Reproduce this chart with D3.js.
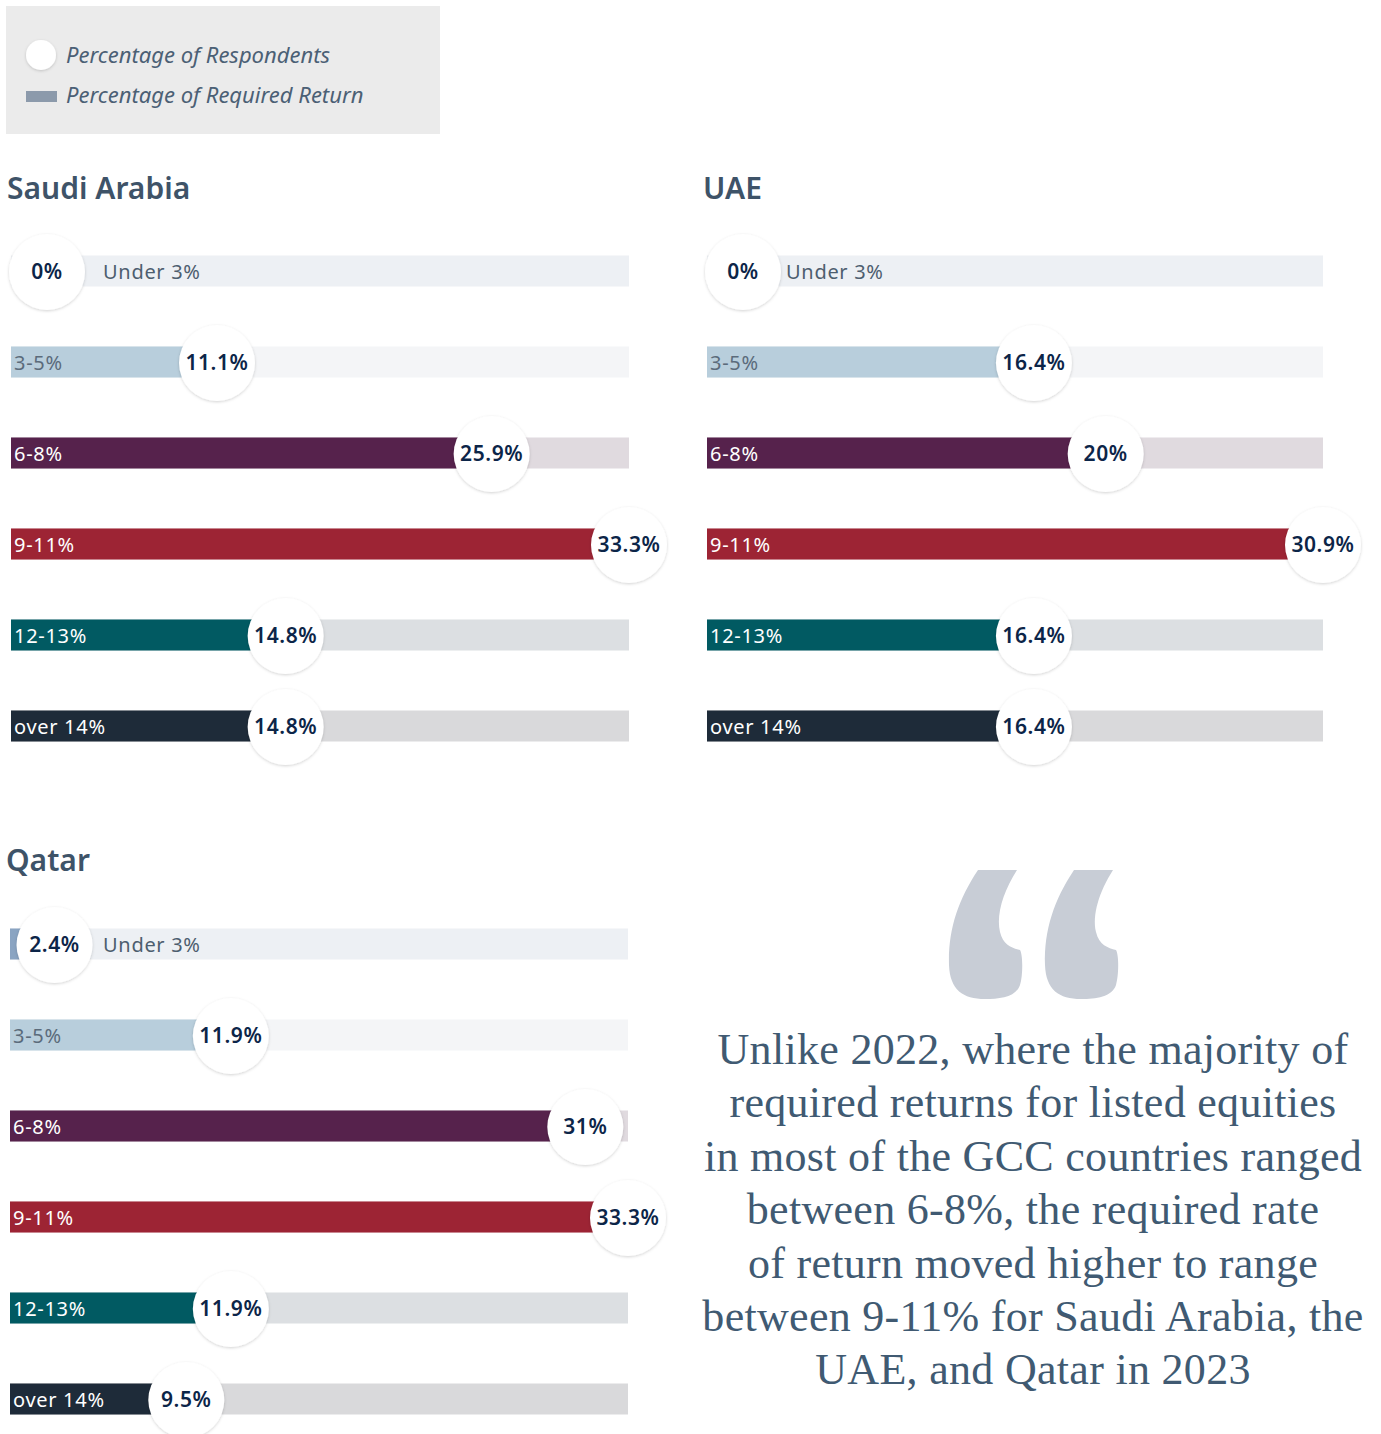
<!DOCTYPE html>
<html>
<head>
<meta charset="utf-8">
<script src="https://cdn.jsdelivr.net/npm/d3@7"></script>
<style>
  body { margin: 0; background: #fff; }
  svg { display: block; }
</style>
</head>
<body>
<svg id="chart" width="1381" height="1434"></svg>
<script>
// categories (rows) and the values per country
var categories = ["Under 3%", "3-5%", "6-8%", "9-11%", "12-13%", "over 14%"];
var saudiValues = [0, 11.1, 25.9, 33.3, 14.8, 14.8];
var uaeValues = [0, 16.4, 20, 30.9, 16.4, 16.4];
var qatarValues = [2.4, 11.9, 31, 33.3, 11.9, 9.5];

var legendLabels = ["Percentage of Respondents", "Percentage of Required Return"];
var quoteLines = [
  "Unlike 2022, where the majority of",
  "required returns for listed equities",
  "in most of the GCC countries ranged",
  "between 6-8%, the required rate",
  "of return moved higher to range",
  "between 9-11% for Saudi Arabia, the",
  "UAE, and Qatar in 2023"
];

// colours per row
var barColors = ["#8aa4c2", "#b8cedc", "#56224c", "#9d2434", "#015a62", "#1e2b39"];
var trackColors = ["#edf0f4", "#f4f5f7", "#e0dadf", "#ead8db", "#dcdfe2", "#d9d9db"];
var labelColors = ["#4d5e6f", "#5b6b7b", "#fff", "#fff", "#fff", "#fff"];

var svg = d3.select("#chart");

// shadow for the circles
var defs = svg.append("defs");
var f = defs.append("filter").attr("id", "shadow")
  .attr("x", "-30%").attr("y", "-30%").attr("width", "160%").attr("height", "160%");
f.append("feDropShadow").attr("dx", 0).attr("dy", 1).attr("stdDeviation", 1.6)
  .attr("flood-color", "#000").attr("flood-opacity", 0.18);

// legend
var lg = svg.append("g");
lg.append("rect").attr("x", 6).attr("y", 6).attr("width", 434).attr("height", 128).attr("fill", "#ebebeb");
lg.append("circle").attr("cx", 41).attr("cy", 55).attr("r", 15).attr("fill", "#fff").attr("filter", "url(#shadow)");
lg.append("rect").attr("x", 26).attr("y", 91).attr("width", 31).attr("height", 11).attr("fill", "#8c9aab");
lg.selectAll("text.lg").data(legendLabels).enter().append("text")
  .attr("class", "lg")
  .attr("x", 66)
  .attr("y", function(d, i) { return 63 + i * 40; })
  .attr("font-family", "'Noto Sans', sans-serif")
  .attr("font-style", "italic")
  .attr("font-size", "22px")
  .attr("fill", "#4b6075")
  .text(function(d) { return d; });

// one panel = title + 6 rows
function panel(title, values, x0, trackW, titleY, rowY0, firstLabelX) {
  var g = svg.append("g");
  g.append("text")
    .attr("x", x0 - 4)
    .attr("y", titleY)
    .attr("font-family", "'Noto Sans', sans-serif")
    .attr("font-weight", 600)
    .attr("font-size", "30px")
    .attr("fill", "#3e5368")
    .text(title);

  var xScale = d3.scaleLinear().domain([0, d3.max(values)]).range([x0, x0 + trackW]);
  var yScale = d3.scalePoint().domain(categories).range([rowY0, rowY0 + 5 * 91]);
  var barH = 31, r = 38;

  var rows = g.selectAll("g.row").data(categories).enter().append("g").attr("class", "row");

  rows.append("rect")
    .attr("x", x0)
    .attr("y", function(d) { return yScale(d) - barH / 2; })
    .attr("width", trackW)
    .attr("height", barH)
    .attr("fill", function(d, i) { return trackColors[i]; });

  rows.append("rect")
    .attr("x", x0)
    .attr("y", function(d) { return yScale(d) - barH / 2; })
    .attr("width", function(d, i) { return xScale(values[i]) - x0; })
    .attr("height", barH)
    .attr("fill", function(d, i) { return barColors[i]; });

  rows.append("text")
    .attr("x", function(d, i) { return i == 0 ? x0 + firstLabelX : x0 + 3; })
    .attr("y", function(d) { return yScale(d) + 8; })
    .attr("font-family", "'Noto Sans', sans-serif")
    .attr("font-size", "20px")
    .attr("letter-spacing", "0.7px")
    .attr("fill", function(d, i) { return labelColors[i]; })
    .text(function(d) { return d; });

  var cx = function(i) { return Math.max(xScale(values[i]), x0 + r - 2); };

  rows.append("circle")
    .attr("cx", function(d, i) { return cx(i); })
    .attr("cy", function(d) { return yScale(d) + 1; })
    .attr("r", r)
    .attr("fill", "#fff")
    .attr("filter", "url(#shadow)");

  rows.append("text")
    .attr("x", function(d, i) { return cx(i); })
    .attr("y", function(d) { return yScale(d) + 8; })
    .attr("text-anchor", "middle")
    .attr("font-family", "'Noto Sans', sans-serif")
    .attr("font-weight", 600)
    .attr("font-size", "21px")
    .attr("letter-spacing", "0.6px")
    .attr("fill", "#0c2548")
    .text(function(d, i) { return values[i] + "%"; });
}

panel("Saudi Arabia", saudiValues, 11, 618, 199, 271, 92);
panel("UAE", uaeValues, 707, 616, 199, 271, 79);
panel("Qatar", qatarValues, 10, 618, 871, 944, 93);

// big quote mark
var qPath = "M30 0 L69 0 C55 22 48 45 52 62 C55 75 64 78 72 80 C75 85 75 105 72 115 " +
  "C68 127 52 129 37 129 C15 129 2 120 1 95 C0 60 10 30 30 0 Z";
[948, 1044].forEach(function(x) {
  svg.append("path").attr("d", qPath)
    .attr("transform", "translate(" + x + ",870)")
    .attr("fill", "#c8cdd6");
});

// quote text
svg.append("g").selectAll("text").data(quoteLines).enter().append("text")
  .attr("x", 1033)
  .attr("y", function(d, i) { return 1064 + i * 53.4; })
  .attr("text-anchor", "middle")
  .attr("font-family", "'Liberation Serif', serif")
  .attr("font-size", "44px")
  .attr("letter-spacing", "0.3px")
  .attr("fill", "#405a72")
  .text(function(d) { return d; });
</script>
</body>
</html>
